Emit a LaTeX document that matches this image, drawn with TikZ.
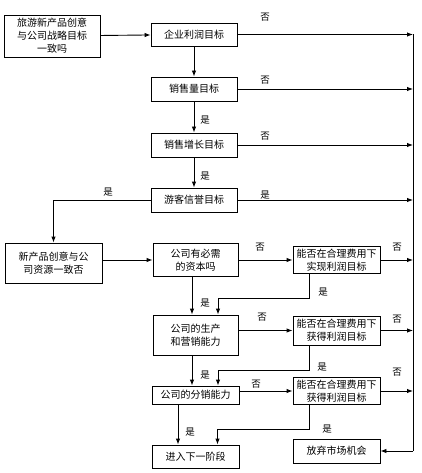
\documentclass[tikz,border=0pt]{standalone}
\usepackage{fontspec}
\setmainfont{Noto Sans CJK SC}
\usetikzlibrary{arrows.meta}

\begin{document}
\begin{tikzpicture}[
    x=1pt, y=-1pt,
    every node/.style={font=\fontsize{10}{13}\selectfont},
    box/.style={draw, line width=0.9pt, minimum width=#1, inner sep=2pt,
                align=center},
    box/.default=86pt,
    arrow/.style={-{Latex[length=6pt,width=4.5pt]}, line width=0.9pt},
    line/.style={line width=0.9pt},
    lbl/.style={font=\fontsize{9.5}{11}\selectfont, inner sep=0pt}
]
\useasboundingbox (0,0) rectangle (421,473);

% Strategy check
\node[box=96pt, minimum height=42pt] (strategy) at (52, 36)
    {旅游新产品创意\\与公司战略目标\\一致吗};

% Goal chain
\node[box, minimum height=23pt] (profit) at (194, 34.5) {企业利润目标};
\node[box, minimum height=24pt] (volume) at (194, 89) {销售量目标};
\node[box, minimum height=24pt] (growth) at (194, 145) {销售增长目标};
\node[box, minimum height=24pt] (repute) at (194, 200) {游客信誉目标};

% Right collector line
\coordinate (rtop) at (413, 34.5);
\coordinate (rbot) at (413, 451);
\draw[line] (rtop) -- (rbot);

\draw[arrow] (strategy) -- (profit);
\draw[arrow] (profit) -- (volume);
\draw[arrow] (volume) -- (growth);
\node[lbl] at (205, 120) {是};
\draw[arrow] (growth) -- (repute);
\node[lbl] at (205, 176) {是};

\draw[arrow] (profit.east) -- (profit.east -| rtop);
\node[lbl] at (265, 17) {否};
\draw[arrow] (volume.east) -- (volume.east -| rtop);
\node[lbl] at (265, 80) {否};
\draw[arrow] (growth.east) -- (growth.east -| rtop);
\node[lbl] at (265, 136) {否};
\draw[arrow] (repute.east) -- (repute.east -| rtop);
\node[lbl] at (265, 195) {是};

% Resource check
\node[box=97pt, minimum height=40pt] (resource) at (53.5, 263)
    {新产品创意与公\\司资源一致否};
\draw[arrow] (repute.west) -| (resource.north);
\node[lbl] at (108, 192) {是};

% Capability checks
\node[box=85pt, minimum height=33pt] (capital) at (195.5, 260)
    {公司有必需\\的资本吗};
\node[box=85pt, minimum height=40pt] (produce) at (195.5, 335)
    {公司的生产\\和营销能力};
\node[box=87pt, minimum height=18pt] (distrib) at (195.5, 395)
    {公司的分销能力};
\node[box=87pt, minimum height=23pt] (nextstage) at (195.5, 456.5)
    {进入下一阶段};

% Cost checks
\node[box=87pt, minimum height=26pt] (cost1) at (336.5, 260)
    {能否在合理费用下\\实现利润目标};
\node[box=87pt, minimum height=29pt] (cost2) at (336.5, 330.5)
    {能否在合理费用下\\获得利润目标};
\node[box=87pt, minimum height=25pt] (cost3) at (336.5, 391)
    {能否在合理费用下\\获得利润目标};
\node[box=87pt, minimum height=24pt] (abandon) at (336.5, 451)
    {放弃市场机会};

\draw[arrow] (resource.east |- capital) -- (capital);

% Capital
\draw[arrow] (capital) -- (cost1);
\node[lbl] at (260, 247) {否};
\draw[arrow] (cost1.east) -- (cost1.east -| rtop);
\node[lbl] at (397, 247) {否};
\draw[arrow] ([xshift=-3.5pt]capital.south) -- ([xshift=-3.5pt]produce.north);
\node[lbl] at (205, 303) {是};
\draw[arrow] ([xshift=-27.5pt]cost1.south) |- ++(0,25)
    -| ([xshift=22.5pt]produce.north);
\node[lbl] at (323, 292) {是};

% Production
\draw[arrow] (produce.east |- cost2) -- (cost2);
\node[lbl] at (262, 317) {否};
\draw[arrow] (cost2.east) -- (cost2.east -| rtop);
\node[lbl] at (397, 319) {否};
\draw[arrow] ([xshift=-3.5pt]produce.south) -- ([xshift=-3.5pt]distrib.north);
\node[lbl] at (205, 375) {是};
\draw[arrow] ([xshift=-27.5pt]cost2.south) |- ++(0,25)
    -| ([xshift=22.5pt]distrib.north);
\node[lbl] at (322, 367) {是};

% Distribution
\draw[arrow] (distrib.east |- cost3) -- (cost3);
\node[lbl] at (256, 384) {否};
\draw[arrow] (cost3.east) -- (cost3.east -| rtop);
\node[lbl] at (397, 372) {否};
\draw[arrow] ([xshift=-17.5pt]distrib.south) -- ([xshift=-17.5pt]nextstage.north);
\node[lbl] at (190, 432) {是};
\draw[arrow] ([xshift=-27.5pt]cost3.south) |- ++(0,25)
    -| ([xshift=22pt]nextstage.north);
\node[lbl] at (327, 429) {是};

% Abandon
\draw[arrow] (rbot) -- (abandon.east);

\end{tikzpicture}
\end{document}
